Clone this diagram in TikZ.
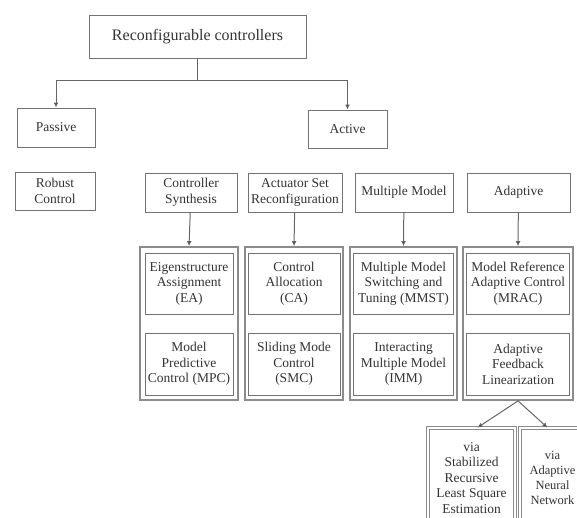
\documentclass[tikz,border=0pt]{standalone}
\usepackage{fontspec}
\setmainfont{Liberation Serif}
\usetikzlibrary{arrows.meta}

\begin{document}
\begin{tikzpicture}[x=1pt,y=-1pt,
    box/.style={draw=black!55,line width=1pt,align=center,inner sep=0pt,
      text=black!80,font=\fontsize{13.5}{15.5}\selectfont},
    frame/.style={draw=black!45,line width=1.8pt,inner sep=0pt},
    viabox/.style={box,draw=black!45,double,double distance=1.6pt,line width=0.8pt},
    arr/.style={draw=black!60,line width=1pt,-{Latex[length=5pt,width=5pt,fill=black]}}]
      \useasboundingbox (0,0) rectangle (577,517);
      \clip (0,0) rectangle (577,517);

      % top levels
      \node[box,minimum width=217,minimum height=43,font=\fontsize{16}{18}\selectfont] (rc) at (197.5,36.5) {Reconfigurable controllers};
      \node[box,minimum width=78,minimum height=39] (passive) at (56,127.5) {Passive};
      \node[box,minimum width=79,minimum height=38] (active) at (347.5,129) {Active};
      \coordinate (split) at (197.5,80);
      \draw[draw=black!60,line width=1pt] (rc) -- (split);
      \draw[arr] (split) -| (passive);
      \draw[arr] (split) -| (active);

      % third row
      \node[box,minimum width=80,minimum height=38] (robust) at (55,191) {Robust\\Control};
      \node[box,minimum width=92,minimum height=39] (synth) at (191,192.5) {Controller\\Synthesis};
      \node[box,minimum width=94,minimum height=39] (actset) at (295,192.5) {Actuator Set\\Reconfiguration};
      \node[box,minimum width=98,minimum height=39] (multi) at (404,192.5) {Multiple Model};
      \node[box,minimum width=103,minimum height=39] (adapt) at (518.5,192.5) {Adaptive};

      % grouped methods
      \node[frame,minimum width=98,minimum height=153] (fsynth) at (189,323.5) {};
      \node[frame,minimum width=98,minimum height=153] (factset) at (294,323.5) {};
      \node[frame,minimum width=107,minimum height=153] (fmulti) at (403.5,323.5) {};
      \node[frame,minimum width=110,minimum height=153] (fadapt) at (518,323.5) {};

      \node[box,minimum width=88,minimum height=61] (ea) at (189,283.5) {Eigenstructure\\Assignment\\(EA)};
      \node[box,minimum width=88,minimum height=62] (mpc) at (189,364) {Model\\Predictive\\Control (MPC)};
      \node[box,minimum width=92,minimum height=61] (ca) at (294,283.5) {Control\\Allocation\\(CA)};
      \node[box,minimum width=92,minimum height=62] (smc) at (294,364) {Sliding Mode\\Control\\(SMC)};
      \node[box,minimum width=100,minimum height=61] (mmst) at (403.5,283.5) {Multiple Model\\Switching and\\Tuning (MMST)};
      \node[box,minimum width=100,minimum height=62] (imm) at (403.5,364) {Interacting\\Multiple Model\\(IMM)};
      \node[box,minimum width=103,minimum height=61] (mrac) at (518,283.5) {Model Reference\\Adaptive Control\\(MRAC)};
      \node[box,minimum width=103,minimum height=62] (afl) at (518,364) {Adaptive\\Feedback\\Linearization};

      \draw[arr] (synth) -- (fsynth.north);
      \draw[arr] (actset) -- (factset.north);
      \draw[arr] (multi) -- (fmulti.north);
      \draw[arr] (adapt) -- (fadapt.north);

      % feedback linearization variants (cut by the page edge)
      \node[viabox,minimum width=87,minimum height=100] (vrls) at (471.5,478) {via\\Stabilized\\Recursive\\Least Square\\Estimation};
      \node[viabox,minimum width=65,minimum height=100,font=\fontsize{12.5}{15}\selectfont] (vann) at (552.5,478) {via\\Adaptive\\Neural\\Network};
      \draw[arr] (fadapt.south) -- ([xshift=6pt]vrls.north);
      \draw[arr] (fadapt.south) -- ([xshift=-5pt]vann.north);
\end{tikzpicture}
\end{document}
